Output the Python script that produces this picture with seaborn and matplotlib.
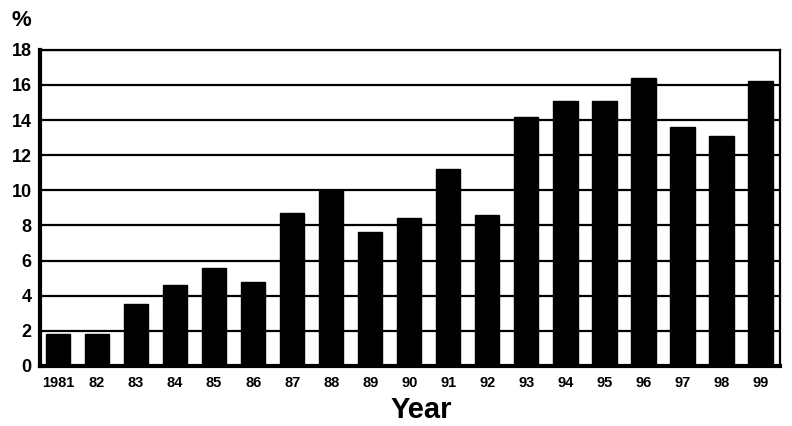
import pandas as pd
import matplotlib
matplotlib.use("Agg")
import matplotlib.pyplot as plt
import seaborn as sns

# values
years = ["1981", "82", "83", "84", "85", "86", "87", "88", "89", "90",
         "91", "92", "93", "94", "95", "96", "97", "98", "99"]
percent = [1.8, 1.8, 3.5, 4.6, 5.6, 4.8, 8.7, 10.0, 7.6, 8.4,
           11.2, 8.6, 14.2, 15.1, 15.1, 16.4, 13.6, 13.1, 16.2]
y_ticks = [0, 2, 4, 6, 8, 10, 12, 14, 16, 18]

df = pd.DataFrame({"Year": years, "Percent": percent})

sns.set_style("white")
plt.rcParams["font.family"] = ["Liberation Sans", "DejaVu Sans"]
plt.rcParams["text.color"] = "black"
plt.rcParams["xtick.color"] = "black"
plt.rcParams["ytick.color"] = "black"
plt.rcParams["axes.labelcolor"] = "black"

fig = plt.figure(figsize=(7.92, 4.26), dpi=100)
ax = fig.add_axes([0.0505, 0.141, 0.934, 0.742])

sns.barplot(data=df, x="Year", y="Percent", color="black", width=0.62,
            saturation=1, edgecolor="black", ax=ax, zorder=3)

ax.set_ylim(0, 18)
ax.set_xlim(-0.46, len(years) - 0.51)
ax.set_yticks(y_ticks)
ax.set_yticklabels([str(t) for t in y_ticks], fontsize=13, fontweight="bold")
ax.set_xticks(range(len(years)))
ax.set_xticklabels(years, fontsize=10.5, fontweight="bold")
ax.tick_params(axis="x", length=0, pad=7)
ax.tick_params(axis="y", length=0, pad=6)

# horizontal gridlines
ax.yaxis.grid(True, color="black", linewidth=1.6, zorder=0)
ax.set_axisbelow(True)
for side in ["top", "bottom", "left", "right"]:
    ax.spines[side].set_visible(True)
    ax.spines[side].set_color("black")
    ax.spines[side].set_linewidth(1.6)
ax.spines["left"].set_linewidth(3)
ax.spines["bottom"].set_linewidth(3)

ax.set_xlabel("Year", fontsize=21, fontweight="bold")
ax.xaxis.set_label_coords(0.516, -0.095, transform=ax.transAxes)
ax.xaxis.label.set_verticalalignment("top")
ax.set_ylabel("")
fig.text(0.014, 0.952, "%", fontsize=16, fontweight="bold", va="center")

fig.savefig("out.png", dpi=100)
